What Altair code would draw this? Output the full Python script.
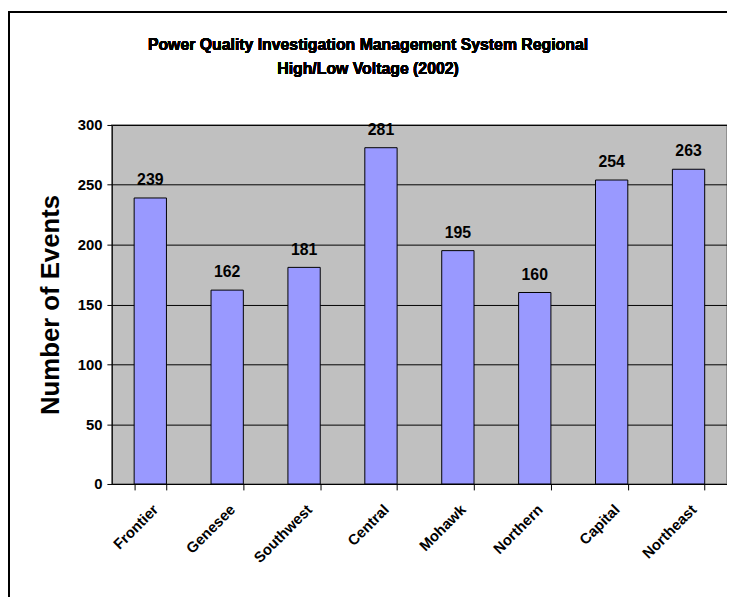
import altair as alt
import pandas as pd

regions = ["Frontier", "Genesee", "Southwest", "Central", "Mohawk", "Northern", "Capital", "Northeast"]
events = [239, 162, 181, 281, 195, 160, 254, 263]
y_ticks = [0, 50, 100, 150, 200, 250, 300]
title_lines = ["Power Quality Investigation Management System Regional", "High/Low Voltage (2002)"]

df = pd.DataFrame({"Region": regions, "Events": events})

FONT = "Liberation Sans"

x = alt.X("Region:N", sort=regions,
          scale=alt.Scale(paddingInner=0.58, paddingOuter=0.29),
          axis=alt.Axis(title=None, labelAngle=-45, labelFontSize=15, labelFontWeight="bold",
                        labelFont=FONT, labelColor="black", tickBand="extent", tickColor="black",
                        tickSize=6, domainColor="black", labelPadding=12, grid=False))
y = alt.Y("Events:Q", scale=alt.Scale(domain=[0, 300], nice=False),
          axis=alt.Axis(title="Number of Events", values=y_ticks, titleFontSize=26,
                        titleFont=FONT, titleFontWeight="bold", titleColor="black",
                        labelFontSize=15, labelFontWeight="bold", labelFont=FONT,
                        labelColor="black", tickColor="black", tickSize=5,
                        domainColor="black", gridColor="black", gridOpacity=1,
                        titlePadding=14, labelPadding=5))

bars = alt.Chart(df).mark_bar(color="#9999FF", stroke="black", strokeWidth=1).encode(x=x, y=y)
labels = alt.Chart(df).mark_text(dy=-18, fontSize=16, fontWeight="bold", font=FONT,
                                 color="black").encode(x=x, y=y, text="Events:Q")

border = alt.Chart(df).mark_rect(fill="white", fillOpacity=0, stroke="black", strokeWidth=1.5).encode(
    x=alt.value(-104), x2=alt.value(660), y=alt.value(-114), y2=alt.value(520))

title1 = alt.Chart(df).mark_text(text=title_lines[0], font=FONT, fontSize=16, fontWeight="bold",
                                 color="black", align="center", baseline="middle").encode(
    x=alt.value(259), y=alt.value(-81))
title2 = alt.Chart(df).mark_text(text=title_lines[1], font=FONT, fontSize=16, fontWeight="bold",
                                 color="black", align="center", baseline="middle").encode(
    x=alt.value(259), y=alt.value(-57))

chart = alt.layer(border, bars, labels, title1, title2).properties(
    width=622, height=363,
    background="white",
    autosize=alt.AutoSizeParams(type="none"),
    padding={"left": 105, "top": 115, "right": 0, "bottom": 111},
).configure_view(fill="#C0C0C0", stroke="#808080", strokeWidth=1.5)

chart.save("out.html", embed_options={"renderer": "svg", "actions": False})
